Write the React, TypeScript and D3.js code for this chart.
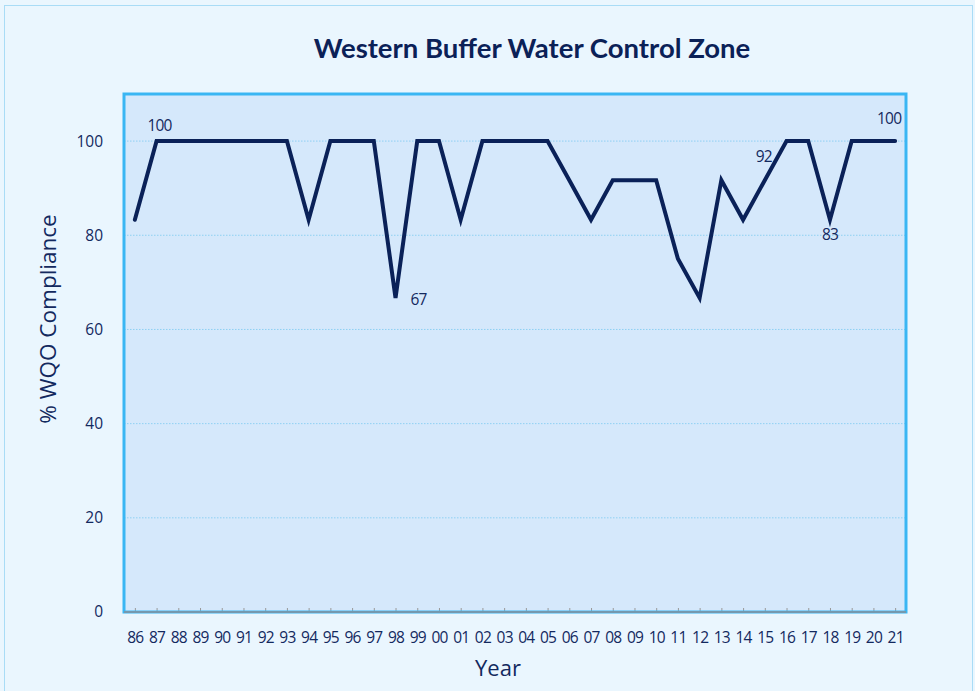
import { useEffect, useRef } from 'react';
import * as d3 from 'd3';

const years = [
  '86', '87', '88', '89', '90', '91', '92', '93', '94', '95', '96', '97',
  '98', '99', '00', '01', '02', '03', '04', '05', '06', '07', '08', '09',
  '10', '11', '12', '13', '14', '15', '16', '17', '18', '19', '20', '21',
];
const compliance = [
  83.3, 100, 100, 100, 100, 100, 100, 100, 83.3, 100, 100, 100,
  66.7, 100, 100, 83.3, 100, 100, 100, 100, 91.7, 83.3, 91.7, 91.7,
  91.7, 75, 66.7, 91.7, 83.3, 91.7, 100, 100, 83.3, 100, 100, 100,
];
const yTicks = [0, 20, 40, 60, 80, 100];
// labelled points: year, text, placement
const pointLabels = [
  { year: '87', text: '100', dx: 3, dy: -10.5, anchor: 'middle' },
  { year: '98', text: '67', dx: 15, dy: 7.5, anchor: 'start' },
  { year: '15', text: '92', dx: -1, dy: -18, anchor: 'middle' },
  { year: '18', text: '83', dx: 0, dy: 20.5, anchor: 'middle' },
  { year: '21', text: '100', dx: -6, dy: -17, anchor: 'middle' },
];

const W = 975;
const H = 691;
const NAVY = '#0a2158';
const TEXT = '#13295e';
const FONT = 'Open Sans, sans-serif';

export default function App() {
  const ref = useRef<SVGSVGElement | null>(null);

  useEffect(() => {
    if (!ref.current) return;
    const svg = d3.select(ref.current);
    svg.selectAll('*').remove();

    const plot = { left: 124, right: 906, top: 94, bottom: 612 };

    svg.append('rect').attr('width', W).attr('height', H).attr('fill', '#eaf6fe');
    svg
      .append('rect')
      .attr('x', 4.5)
      .attr('y', 5.5)
      .attr('width', W - 7)
      .attr('height', H)
      .attr('fill', 'none')
      .attr('stroke', '#a9dcf6')
      .attr('stroke-width', 1);

    const x = d3.scalePoint<string>().domain(years).range([plot.left, plot.right]).padding(0.5);
    const y = d3.scaleLinear().domain([0, 110]).range([plot.bottom, plot.top]);

    svg
      .append('rect')
      .attr('x', plot.left)
      .attr('y', plot.top)
      .attr('width', plot.right - plot.left)
      .attr('height', plot.bottom - plot.top)
      .attr('fill', '#d5e8fb');

    // gridlines
    svg
      .append('g')
      .selectAll('line')
      .data(yTicks.filter(d => d > 0))
      .join('line')
      .attr('x1', plot.left)
      .attr('x2', plot.right)
      .attr('y1', d => y(d))
      .attr('y2', d => y(d))
      .attr('stroke', '#8fd0f3')
      .attr('stroke-width', 1)
      .attr('stroke-dasharray', '1.5,1.5');

    // y tick labels
    svg
      .append('g')
      .selectAll('text')
      .data(yTicks)
      .join('text')
      .attr('x', 103)
      .attr('y', d => y(d))
      .attr('dy', '0.35em')
      .attr('text-anchor', 'end')
      .attr('font-family', FONT)
      .attr('font-size', 15.5)
      .attr('fill', TEXT)
      .text(d => d);

    // x axis
    const xAxis = svg
      .append('g')
      .attr('transform', `translate(0,${plot.bottom})`)
      .call(d3.axisBottom(x).tickSize(-4).tickSizeOuter(0).tickPadding(20));
    xAxis.select('.domain').attr('stroke', '#888');
    xAxis.selectAll('.tick line').attr('stroke', '#999');
    xAxis
      .selectAll('.tick text')
      .attr('font-family', FONT)
      .attr('font-size', 15.5)
      .attr('letter-spacing', '-0.8px')
      .attr('fill', TEXT);

    // plot border
    svg
      .append('rect')
      .attr('x', plot.left)
      .attr('y', plot.top)
      .attr('width', plot.right - plot.left)
      .attr('height', plot.bottom - plot.top)
      .attr('fill', 'none')
      .attr('stroke', '#3ab6f3')
      .attr('stroke-width', 3);
    svg
      .append('line')
      .attr('x1', plot.left)
      .attr('x2', plot.right)
      .attr('y1', plot.bottom)
      .attr('y2', plot.bottom)
      .attr('stroke', '#8a8f99')
      .attr('stroke-width', 1.5);

    const line = d3
      .line<number>()
      .x((_, i) => x(years[i]) as number)
      .y(d => y(d));

    svg
      .append('path')
      .datum(compliance)
      .attr('fill', 'none')
      .attr('stroke', NAVY)
      .attr('stroke-width', 4)
      .attr('stroke-linejoin', 'miter')
      .attr('stroke-linecap', 'round')
      .attr('d', line);

    svg
      .append('g')
      .selectAll('text')
      .data(pointLabels)
      .join('text')
      .attr('x', d => (x(d.year) as number) + d.dx)
      .attr('y', d => y(compliance[years.indexOf(d.year)]) + d.dy)
      .attr('text-anchor', d => d.anchor)
      .attr('font-family', FONT)
      .attr('font-size', 15.5)
      .attr('letter-spacing', '-0.8px')
      .attr('fill', TEXT)
      .text(d => d.text);

    svg
      .append('text')
      .attr('x', 532)
      .attr('y', 58)
      .attr('text-anchor', 'middle')
      .attr('font-family', 'Lato, sans-serif')
      .attr('font-weight', 'bold')
      .attr('font-size', 27.5)
      .attr('fill', '#0b2157')
      .text('Western Buffer Water Control Zone');

    svg
      .append('text')
      .attr('transform', 'translate(56,319) rotate(-90)')
      .attr('text-anchor', 'middle')
      .attr('font-family', FONT)
      .attr('font-size', 22.5)
      .attr('fill', TEXT)
      .text('% WQO Compliance');

    svg
      .append('text')
      .attr('x', 498)
      .attr('y', 676)
      .attr('text-anchor', 'middle')
      .attr('font-family', FONT)
      .attr('font-size', 22)
      .attr('fill', TEXT)
      .text('Year');
  }, []);

  return (
    <svg
      ref={ref}
      width={W}
      height={H}
      style={{ position: 'absolute', left: 0, top: 0, display: 'block' }}
    />
  );
}
